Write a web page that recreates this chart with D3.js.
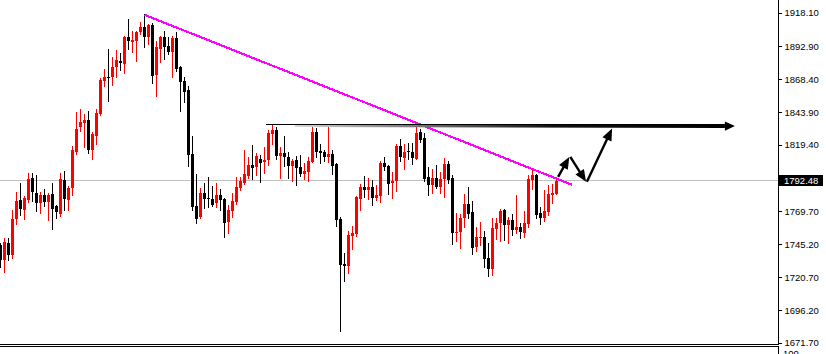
<!DOCTYPE html>
<html><head><meta charset="utf-8">
<script src="https://cdn.jsdelivr.net/npm/d3@7"></script>
<style>html,body{margin:0;padding:0;background:#fff;overflow:hidden}svg{display:block}</style>
</head><body><svg id="c" width="826" height="354"></svg>
<script>
// ---- data (prices) ----
const opens=[
1744.9,1733.2,1746.4,1736.9,1763.8,1778.5,1771.0,1778.5,1794.9,1783.7,
1776.2,1782.2,1777.0,1783.0,1774.0,1768.0,1793.4,1778.5,1787.4,1814.3,
1833.0,1836.0,1838.2,1815.8,1826.3,1842.7,1867.3,1870.3,1870.3,1877.8,
1882.3,1880.0,1900.2,1896.5,1897.2,1903.9,1907.7,1900.2,1909.1,1871.8,
1891.2,1900.2,1893.5,1889.0,1899.4,1877.8,1867.3,1860.6,1812.8,1774.0,
1765.8,1783.7,1780.0,1779.2,1776.2,1782.2,1779.2,1762.1,1770.3,1777.0,
1787.4,1791.2,1796.4,1804.6,1803.1,1809.1,1806.8,1808.3,1827.8,1830.7,
1811.3,1813.6,1810.6,1803.9,1808.3,1803.1,1797.9,1799.4,1806.8,1829.3,
1815.1,1814.3,1810.6,1812.8,1805.4,1764.3,1730.7,1729.2,1751.6,1753.1,
1779.2,1788.2,1785.9,1788.2,1780.0,1781.5,1806.1,1803.9,1791.2,1792.7,
1818.8,1809.8,1815.1,1814.3,1809.1,1829.3,1824.8,1795.6,1789.7,1794.9,
1788.2,1794.2,1805.4,1794.9,1753.8,1754.6,1765.0,1775.5,1769.5,1743.4,
1750.1,1750.9,1735.2,1727.0,1756.8,1761.3,1771.0,1759.8,1763.5,1756.1,
1758.3,1753.8,1760.6,1793.4,1797.1,1768.8,1765.0,1769.5,1782.2,1783.0];
const highs=[
1746.1,1750.1,1750.1,1770.5,1784.5,1791.2,1781.5,1798.6,1798.6,1797.1,
1784.5,1786.7,1783.7,1791.2,1774.7,1798.6,1800.1,1788.9,1818.8,1844.2,
1846.4,1842.7,1844.9,1829.3,1846.4,1869.6,1876.3,1891.2,1885.3,1890.5,
1888.2,1900.9,1913.6,1904.7,1904.7,1911.4,1917.4,1909.9,1910.6,1897.2,
1900.9,1904.7,1900.2,1900.9,1903.9,1878.5,1870.3,1863.6,1826.3,1797.9,
1787.4,1791.2,1795.6,1788.9,1791.2,1786.7,1780.0,1774.7,1783.7,1795.6,
1795.6,1815.8,1810.6,1819.5,1813.6,1812.1,1818.0,1830.7,1835.2,1833.0,
1818.0,1826.3,1814.3,1809.1,1811.3,1812.1,1806.1,1810.6,1833.7,1832.2,
1820.3,1815.8,1833.0,1815.8,1806.1,1765.8,1738.9,1755.3,1759.1,1781.0,
1790.4,1796.4,1794.9,1793.4,1789.7,1807.6,1810.6,1804.2,1799.4,1820.3,
1824.0,1820.3,1821.0,1821.0,1835.2,1831.5,1828.5,1803.1,1801.6,1804.6,
1799.4,1809.8,1807.6,1797.1,1768.8,1768.0,1783.0,1788.2,1777.7,1758.3,
1762.1,1755.3,1746.4,1765.0,1765.0,1771.8,1771.3,1765.8,1768.0,1782.2,
1761.3,1770.3,1797.1,1801.6,1797.9,1773.3,1785.9,1789.7,1790.4,1795.6];
const lows=[
1728.0,1724.2,1733.2,1734.7,1760.1,1766.8,1763.8,1777.0,1777.7,1770.3,
1768.8,1774.0,1763.0,1756.3,1764.5,1766.0,1771.0,1770.5,1782.2,1812.8,
1830.0,1818.0,1813.6,1809.1,1820.3,1842.0,1863.6,1852.4,1864.3,1870.3,
1875.5,1873.3,1891.2,1889.0,1882.3,1902.4,1892.7,1895.0,1865.8,1856.1,
1881.5,1883.8,1887.5,1870.3,1874.8,1844.9,1851.7,1803.9,1770.8,1761.3,
1765.0,1772.5,1773.3,1774.0,1773.3,1771.0,1750.9,1753.8,1765.8,1775.5,
1785.9,1790.4,1794.9,1794.2,1797.1,1791.9,1798.6,1804.6,1820.3,1809.1,
1794.9,1803.9,1794.9,1792.7,1789.7,1796.4,1794.2,1792.7,1806.5,1810.6,
1806.1,1807.6,1806.8,1797.9,1759.1,1680.7,1718.0,1724.0,1741.9,1751.6,
1771.0,1780.7,1779.2,1774.7,1778.5,1777.0,1800.9,1783.0,1780.0,1785.2,
1807.6,1801.6,1809.1,1805.4,1808.8,1821.8,1792.7,1782.2,1783.7,1787.4,
1783.7,1780.7,1791.2,1745.6,1747.9,1742.6,1758.3,1765.0,1738.2,1740.4,
1744.9,1728.5,1721.7,1722.5,1749.4,1747.9,1748.6,1746.4,1752.3,1753.8,
1750.1,1750.9,1758.3,1786.7,1765.0,1760.6,1762.8,1767.3,1776.2,1782.5];
const closes=[
1733.2,1746.6,1736.9,1764.3,1777.7,1771.8,1780.0,1794.2,1784.5,1776.2,
1782.2,1777.0,1782.2,1771.8,1769.5,1794.2,1779.2,1787.4,1815.8,1831.5,
1836.7,1838.2,1815.8,1827.8,1843.4,1868.1,1870.3,1869.8,1877.8,1883.0,
1880.8,1900.2,1897.2,1897.7,1903.9,1907.7,1900.2,1909.1,1871.1,1892.7,
1900.2,1892.7,1889.0,1899.4,1876.3,1866.6,1859.1,1812.1,1773.3,1764.3,
1783.7,1779.2,1779.2,1774.7,1782.2,1778.5,1761.3,1771.0,1777.7,1788.2,
1792.7,1797.9,1804.6,1802.4,1810.8,1806.1,1808.3,1828.5,1830.7,1811.3,
1813.6,1810.6,1803.9,1807.6,1802.4,1797.9,1800.1,1807.6,1829.3,1814.3,
1813.6,1810.6,1812.8,1803.9,1763.5,1729.9,1729.2,1752.3,1753.8,1780.7,
1788.2,1785.9,1788.2,1780.0,1782.2,1806.1,1803.1,1790.4,1792.7,1818.8,
1810.6,1814.3,1814.3,1809.8,1828.5,1823.3,1794.2,1789.7,1794.9,1788.2,
1794.2,1805.4,1793.4,1753.8,1754.6,1765.0,1775.5,1768.0,1742.6,1750.9,
1750.9,1734.4,1727.0,1757.6,1761.3,1770.3,1759.8,1763.5,1756.1,1758.3,
1754.6,1761.3,1794.2,1797.1,1767.3,1765.0,1770.3,1783.0,1783.7,1792.48];
const tickValues=[1918.10,1892.90,1868.40,1843.90,1819.40,1769.70,1745.20,1720.70,1696.20,1671.70];
const currentPrice=1792.48;
const subWindowLabel="100";
// annotations in (bar index, price)
const trendLine=[[36.05,1916.4],[142.95,1789.5]];
const levelLine={start:66.4,fadeStart:73.6,end:183.6,price:1833.7};
const arrows=[
  [[139.4,1795.5],[142.2,1810.4]],
  [[142.45,1810.4],[146.4,1791.8]],
  [[146.6,1791.8],[152.9,1831.6]]];

// ---- drawing ----
const axisX=778;
const FONT='"Liberation Sans", Arial, sans-serif', FS='9.5px';
const svg=d3.select('#c');
svg.append('rect').attr('width',826).attr('height',354).attr('fill','#fff');
const x=d3.scaleLinear().domain([0,194.375]).range([0.5,axisX]);
const y=d3.scaleLinear().domain([1671.7,1918.1]).range([342.8,12.6]);

// current price line
const cy=Math.floor(y(currentPrice))+0.5;
svg.append('line').attr('x1',0).attr('x2',axisX).attr('y1',cy).attr('y2',cy)
  .attr('stroke','#c0c0c0').attr('stroke-width',1).attr('shape-rendering','crispEdges');

// candles
const idx=d3.range(opens.length);
const cg=svg.append('g').attr('shape-rendering','crispEdges');
const col=i=>closes[i]>=opens[i]?'#ff0000':'#000000';
cg.selectAll('rect.w').data(idx).join('rect').attr('class','w')
  .attr('x',i=>Math.floor(x(i))).attr('width',1)
  .attr('y',i=>Math.round(y(highs[i])))
  .attr('height',i=>Math.max(1,Math.round(y(lows[i]))-Math.round(y(highs[i]))+1))
  .attr('fill',col);
cg.selectAll('rect.b').data(idx).join('rect').attr('class','b')
  .attr('x',i=>Math.floor(x(i))-1).attr('width',3)
  .attr('y',i=>Math.round(y(Math.max(opens[i],closes[i]))))
  .attr('height',i=>Math.max(1,Math.round(y(Math.min(opens[i],closes[i])))-Math.round(y(Math.max(opens[i],closes[i])))))
  .attr('fill',col);

// trend line
svg.append('line')
  .attr('x1',x(trendLine[0][0])).attr('y1',y(trendLine[0][1]))
  .attr('x2',x(trendLine[1][0])).attr('y2',y(trendLine[1][1]))
  .attr('stroke','#ff00ff').attr('stroke-width',2.2).attr('shape-rendering','crispEdges');

// level line + long arrow
const defs=svg.append('defs');
const lx0=x(levelLine.fadeStart), lx1=x(levelLine.end)-10, yc=y(levelLine.price);
const gr=defs.append('linearGradient').attr('id','fade').attr('gradientUnits','userSpaceOnUse')
  .attr('x1',lx0).attr('x2',lx1).attr('y1',0).attr('y2',0);
[[0,'#d8d8d8'],[0.15,'#a0a0a0'],[0.4,'#505050'],[0.6,'#101010'],[1,'#000']].forEach(s=>
  gr.append('stop').attr('offset',s[0]).attr('stop-color',s[1]));
svg.append('path').attr('d',`M${lx0},${yc-0.7}L${lx1},${yc-1.8}L${lx1},${yc+2.3}L${lx0},${yc+1.3}Z`)
  .attr('fill','url(#fade)');
svg.append('path').attr('d',`M${lx1},${yc-4.3}L${x(levelLine.end)},${yc+0.4}L${lx1},${yc+5.1}Z`).attr('fill','#000');
const ly=Math.floor(yc)-0.5;
svg.append('line').attr('x1',x(levelLine.start)).attr('x2',lx1).attr('y1',ly).attr('y2',ly)
  .attr('stroke','#000').attr('stroke-width',1).attr('shape-rendering','crispEdges');

// small arrows
arrows.forEach(a=>{
  const x0=x(a[0][0]),y0=y(a[0][1]),x1=x(a[1][0]),y1=y(a[1][1]);
  const dx=x1-x0,dy=y1-y0,L=Math.hypot(dx,dy),ux=dx/L,uy=dy/L;
  const hl=12,hw=5;
  const bx=x1-ux*hl,by=y1-uy*hl;
  svg.append('line').attr('x1',x0).attr('y1',y0).attr('x2',bx+ux*2).attr('y2',by+uy*2)
    .attr('stroke','#000').attr('stroke-width',2.4);
  svg.append('path').attr('d',`M${x1},${y1}L${bx-uy*hw},${by+ux*hw}L${bx+uy*hw},${by-ux*hw}Z`).attr('fill','#000');
});

// frames
const fr=svg.append('g').attr('shape-rendering','crispEdges').attr('stroke','#000').attr('stroke-width',1);
fr.append('line').attr('x1',axisX+0.5).attr('x2',axisX+0.5).attr('y1',0).attr('y2',345);
fr.append('line').attr('x1',0).attr('x2',axisX+1).attr('y1',344.5).attr('y2',344.5);
fr.append('line').attr('x1',0).attr('x2',axisX+1).attr('y1',346.5).attr('y2',346.5);
fr.append('line').attr('x1',axisX+0.5).attr('x2',axisX+0.5).attr('y1',346).attr('y2',354);

// right axis
const ax=svg.append('g').attr('transform',`translate(${axisX+0.5},0)`)
  .call(d3.axisRight(y).tickValues(tickValues).tickFormat(d3.format('.2f')).tickSizeOuter(0).tickSize(3).tickPadding(3));
ax.select('.domain').remove();
ax.selectAll('line').attr('stroke','#000').attr('shape-rendering','crispEdges');
ax.selectAll('text').attr('fill','#000').style('font-family',FONT).style('font-size',FS);

// current price label
svg.append('rect').attr('x',axisX+1).attr('y',cy-5.5).attr('width',44).attr('height',11).attr('fill','#000');
svg.append('text').attr('x',axisX+6).attr('y',cy+3.4).text(d3.format('.2f')(currentPrice))
  .attr('fill','#fff').style('font-family',FONT).style('font-size',FS);
// sub-window scale label (cut off by the window edge, as in the reference)
svg.append('text').attr('x',axisX+5).attr('y',357).text(subWindowLabel)
  .attr('fill','#000').style('font-family',FONT).style('font-size',FS);
</script></body></html>
